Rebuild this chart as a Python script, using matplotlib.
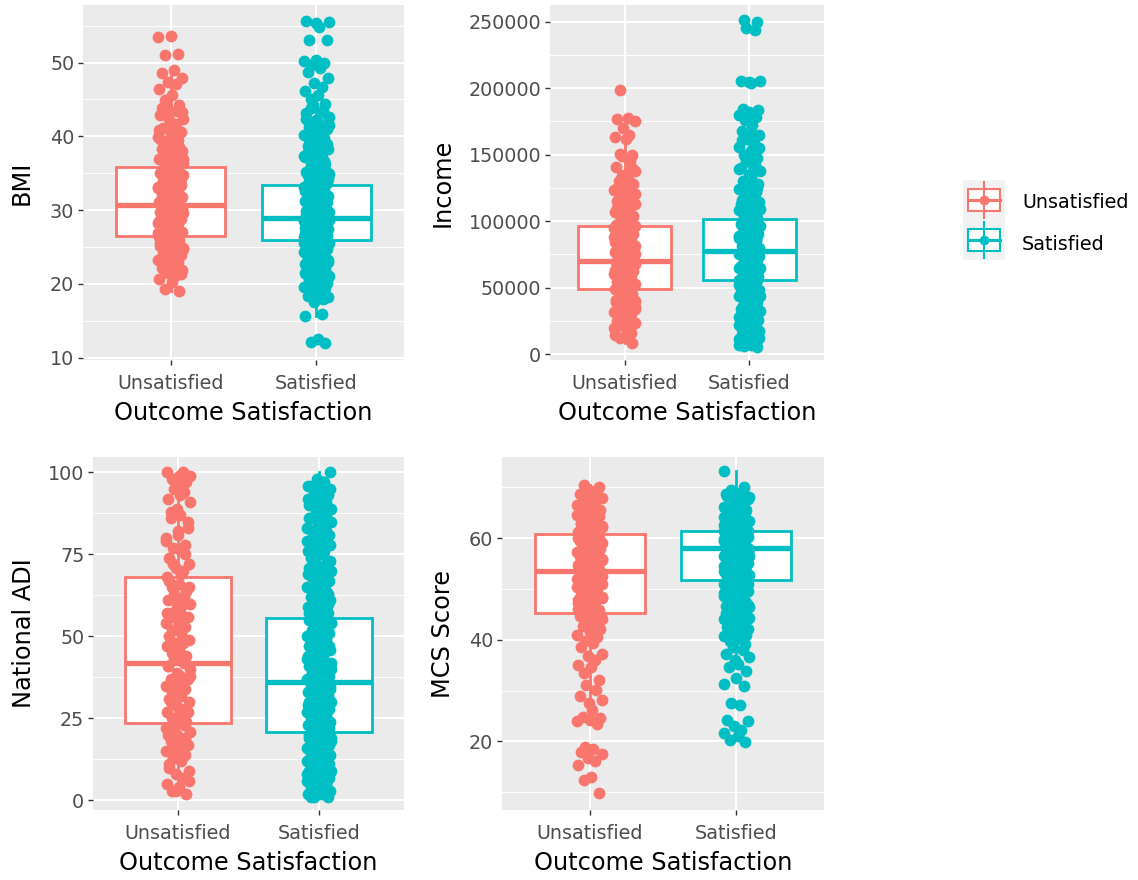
import numpy as np
import matplotlib
matplotlib.use('Agg')
import matplotlib.pyplot as plt
from matplotlib.ticker import MultipleLocator
from matplotlib.patches import Rectangle

# groups and colours (ggplot defaults)
groups = ['Unsatisfied', 'Satisfied']
colors = ['#F8766D', '#00BFC4']

# ---- point values ----
bmi_unsat = [19.1, 19.3, 20.3, 20.7, 21.2, 21.5, 21.9, 22.1, 22.4, 22.8, 23.0, 23.2, 23.7, 23.9,
             24.0, 24.4, 24.7, 24.9, 25.2, 25.3, 25.7, 25.9, 26.1, 26.3, 26.4, 26.8, 27.0, 27.1,
             27.5, 27.6, 27.9, 28.1, 28.3, 28.4, 28.8, 29.0, 29.1, 29.4, 29.6, 29.7, 30.1, 30.2,
             30.5, 30.7, 30.8, 31.1, 31.2, 31.6, 31.8, 32.0, 32.3, 32.4, 32.8, 33.0, 33.3, 33.4,
             33.9, 34.1, 34.4, 34.8, 35.0, 35.3, 35.7, 36.0, 36.2, 36.6, 37.0, 37.3, 37.7, 38.0,
             38.3, 38.8, 39.1, 39.5, 39.9, 40.2, 40.6, 41.1, 41.5, 41.9, 42.4, 42.9, 43.5, 44.0,
             44.3, 44.9, 45.6, 46.4, 47.1, 47.3, 47.9, 48.6, 49.0, 51.0, 51.2, 53.5, 53.6,
             21.3, 22.6, 23.4, 24.2, 24.8, 25.5, 26.0, 26.6, 27.2, 27.8, 28.2, 28.6, 29.2, 29.9,
             30.3, 30.9, 31.4, 31.9, 32.5, 33.1, 33.6, 34.2, 34.6, 35.1, 35.5, 36.4, 36.9, 37.5,
             38.1, 38.6, 39.3, 40.0, 40.8, 41.7, 42.6, 43.3, 43.9, 22.0, 23.5, 25.0, 26.9, 28.5,
             30.0, 31.5, 33.2, 34.9, 37.0, 39.6]
bmi_sat = [12.0, 12.2, 12.5, 15.7, 15.9, 17.6, 18.2, 18.4, 18.6, 19.0, 19.3, 19.6, 19.9, 20.1,
           20.4, 20.6, 20.9, 21.1, 21.3, 21.6, 21.8, 22.0, 22.2, 22.5, 22.7, 22.9, 23.1, 23.3,
           23.5, 23.8, 24.0, 24.1, 24.4, 24.6, 24.8, 25.0, 25.2, 25.4, 25.6, 25.8, 25.9, 26.2,
           26.4, 26.5, 26.7, 26.9, 27.1, 27.3, 27.4, 27.7, 27.9, 28.0, 28.3, 28.5, 28.6, 28.9,
           29.1, 29.2, 29.5, 29.7, 29.9, 30.1, 30.3, 30.6, 30.8, 31.0, 31.2, 31.5, 31.7, 31.9,
           32.2, 32.4, 32.7, 32.9, 33.2, 33.5, 33.7, 34.0, 34.3, 34.6, 34.9, 35.2, 35.5, 35.9,
           36.2, 36.5, 36.9, 37.2, 37.6, 38.0, 38.3, 38.7, 39.1, 39.4, 39.8, 40.2, 40.6, 41.0,
           41.3, 41.8, 42.2, 42.6, 43.1, 43.5, 44.0, 44.4, 45.0, 45.6, 46.1, 46.7, 47.2, 47.9,
           48.7, 49.2, 49.7, 50.0, 50.2, 50.3, 53.0, 53.1, 54.8, 55.3, 55.5, 55.6,
           17.9, 18.9, 19.5, 20.3, 21.0, 21.5, 22.1, 22.6, 23.0, 23.6, 24.2, 24.7, 25.1, 25.5,
           26.0, 26.6, 27.0, 27.5, 28.1, 28.7, 29.3, 29.8, 30.4, 30.9, 31.4, 32.0, 32.6, 33.0,
           33.6, 34.2, 34.8, 35.4, 36.0, 36.7, 37.4, 38.2, 38.9, 39.6, 40.4, 41.1, 41.6, 42.4,
           43.3, 44.2, 20.0, 22.4, 24.9, 27.6, 30.0, 32.5, 35.0, 37.9, 40.8, 43.8, 18.8, 26.3,
           29.6, 31.1]

inc_unsat = [8000, 12000, 14000, 14500, 18000, 21000, 23000, 25000, 26500, 28000, 30000, 31500,
             33000, 34500, 36000, 37000, 38500, 40000, 41000, 42500, 44000, 45000, 46500, 48000,
             49000, 50500, 52000, 53000, 54500, 56000, 57000, 58500, 60000, 61000, 62500, 64000,
             65000, 66500, 68000, 69000, 70500, 72000, 73000, 74500, 76000, 77000, 78500, 80000,
             81000, 82500, 84000, 85000, 86500, 88000, 89000, 90500, 92000, 93000, 94500, 96000,
             97000, 98500, 100000, 102000, 103500, 105000, 107000, 109000, 111000, 113000,
             115000, 117000, 119000, 121000, 123000, 125000, 127500, 130000, 132500, 135000,
             138000, 141000, 145000, 149000, 150000, 150500, 162000, 163500, 165000, 170000,
             175000, 176500, 177500, 198300,
             16000, 19500, 22000, 24000, 27000, 29000, 32000, 35000, 39000, 43000, 47000, 51000,
             55000, 59000, 63000, 67000, 71000, 75000, 79000, 83000, 87000, 91000, 95000, 99000,
             104000, 108000, 112000, 116000, 120000, 124000, 129000, 134000, 140000, 60500,
             72500, 84500, 96500, 45500, 33500, 110000]
inc_sat = [5500, 6000, 6500, 7000, 8000, 10000, 12000, 14000, 16000, 18000, 20000, 22000, 24000,
           25500, 27000, 29000, 30500, 32000, 34000, 35500, 37000, 39000, 40500, 42000, 43500,
           45000, 46500, 48000, 49500, 51000, 52500, 54000, 55500, 57000, 58500, 60000, 61500,
           63000, 64500, 66000, 67500, 69000, 70500, 72000, 73500, 75000, 76500, 78000, 79500,
           81000, 82500, 84000, 85500, 87000, 88500, 90000, 91500, 93000, 94500, 96000, 97500,
           99000, 100500, 102000, 104000, 106000, 108000, 110000, 112000, 114000, 116000, 118000,
           120000, 122000, 124000, 126000, 128000, 130000, 132500, 135000, 137500, 140000,
           142500, 145000, 147500, 150000, 153000, 156000, 159000, 162000, 165000, 168000,
           172000, 176000, 178000, 180000, 182000, 183500, 184000, 204000, 204500, 205000,
           205500, 244000, 245000, 249500, 251000,
           9000, 11000, 13000, 15000, 17000, 19000, 21000, 23000, 26000, 28000, 31000, 33000,
           36000, 38000, 41000, 44000, 47000, 50000, 53000, 56000, 59000, 62000, 65000, 68000,
           71000, 74000, 77000, 80000, 83000, 86000, 89000, 92000, 95000, 98000, 101000, 105000,
           109000, 113000, 117000, 121000, 125000, 129000, 134000, 139000, 144000, 149000,
           155000, 161000, 166000, 79000, 65500, 52000]

adi_unsat = [2, 3, 4, 5, 7, 8, 9, 11, 12, 13, 14, 15, 16, 17, 18, 19, 20, 21, 22, 23, 23, 24,
             25, 26, 27, 28, 29, 30, 31, 32, 33, 34, 35, 36, 37, 37, 38, 39, 40, 41, 42, 43, 44,
             45, 46, 47, 48, 48, 49, 50, 51, 52, 53, 54, 55, 56, 57, 58, 59, 60, 61, 62, 63, 64,
             65, 66, 68, 70, 71, 72, 74, 76, 77, 78, 80, 81, 83, 86, 87, 89, 91, 92, 94, 95, 97,
             98, 99, 100, 100,
             3, 6, 10, 13, 16, 19, 22, 25, 27, 30, 32, 35, 38, 41, 43, 46, 49, 52, 54, 57, 60,
             62, 65, 67, 69, 72, 75, 79, 82, 85, 88, 93, 96, 99, 20, 44, 56, 64, 33, 28]
adi_sat = [1, 1, 2, 2, 2, 3, 3, 4, 4, 5, 5, 6, 6, 7, 7, 8, 8, 9, 9, 10, 10, 11, 11, 12, 12, 13,
           13, 14, 14, 15, 15, 16, 16, 17, 17, 18, 18, 19, 19, 20, 20, 21, 21, 22, 22, 23, 23,
           24, 24, 25, 25, 26, 26, 27, 27, 28, 28, 29, 29, 30, 30, 31, 31, 32, 32, 33, 33, 34,
           34, 35, 35, 36, 36, 37, 37, 38, 38, 39, 39, 40, 40, 41, 41, 42, 42, 43, 44, 44, 45,
           46, 46, 47, 48, 48, 49, 50, 50, 51, 52, 52, 53, 54, 55, 55, 56, 57, 58, 58, 59, 60,
           61, 61, 62, 63, 64, 64, 65, 66, 67, 68, 68, 69, 70, 71, 72, 72, 73, 74, 75, 76, 76,
           77, 78, 79, 80, 81, 82, 83, 84, 85, 86, 87, 88, 89, 90, 91, 92, 93, 94, 95, 96, 97,
           98, 100,
           1, 3, 4, 6, 8, 9, 11, 13, 14, 16, 18, 19, 21, 23, 24, 26, 28, 29, 31, 33, 34, 36, 38,
           39, 41, 43, 45, 47, 49, 51, 53, 54, 57, 59, 62, 63, 66, 67, 69, 70, 71, 73, 74, 75,
           77, 78, 79, 80, 81, 82, 83, 84, 85, 86, 87, 88, 89, 90, 91, 92, 93, 94, 95, 96, 97,
           2, 5, 12, 17, 22, 27, 32, 37, 42, 47, 52, 56, 60, 65]

mcs_unsat = [9.9, 12.5, 12.9, 15.4, 16.2, 16.7, 17.5, 18.0, 18.6, 18.9, 23.4, 24.0, 24.3, 24.6,
             24.9, 26.2, 27.5, 28.1, 29.0, 30.1, 31.2, 32.0, 33.4, 34.6, 35.1, 36.0, 36.8, 37.2,
             38.5, 39.4, 39.8, 40.5, 41.0, 41.6, 42.1, 42.7, 43.3, 43.7, 44.2, 44.6, 45.0, 45.5,
             45.9, 46.3, 46.8, 47.2, 47.6, 48.0, 48.4, 48.8, 49.2, 49.6, 50.0, 50.4, 50.7, 51.1,
             51.5, 51.8, 52.2, 52.5, 52.9, 53.2, 53.5, 53.9, 54.2, 54.5, 54.8, 55.2, 55.5, 55.8,
             56.1, 56.4, 56.7, 57.0, 57.3, 57.6, 57.9, 58.2, 58.5, 58.8, 59.1, 59.4, 59.7, 60.0,
             60.3, 60.6, 60.9, 61.2, 61.6, 62.0, 62.4, 62.8, 63.2, 63.7, 64.1, 64.6, 65.1, 65.6,
             66.2, 66.8, 67.4, 68.0, 68.7, 69.3, 69.8, 70.1, 70.4,
             45.3, 46.0, 46.6, 47.4, 48.2, 48.9, 49.8, 50.5, 51.3, 52.0, 52.7, 53.4, 54.0, 54.7,
             55.3, 55.9, 56.5, 57.1, 57.8, 58.3, 58.9, 59.5, 60.1, 60.7, 61.4, 62.2, 63.0, 63.9,
             64.8, 65.8, 66.5, 67.1, 67.9, 68.4, 69.0, 69.6, 50.9, 56.9, 59.9, 61.9, 64.4, 66.0,
             53.8, 47.9]
mcs_sat = [19.8, 20.3, 21.0, 21.6, 22.3, 23.1, 24.0, 24.3, 27.2, 27.5, 30.9, 31.4, 32.4, 33.8,
           34.6, 35.2, 36.0, 36.6, 37.3, 38.0, 38.6, 39.2, 39.8, 40.3, 40.8, 41.2, 41.7, 42.1,
           42.6, 43.0, 43.4, 43.8, 44.2, 44.6, 45.0, 45.3, 45.7, 46.0, 46.4, 46.7, 47.1, 47.4,
           47.7, 48.0, 48.4, 48.7, 49.0, 49.3, 49.6, 49.9, 50.2, 50.5, 50.8, 51.0, 51.3, 51.6,
           51.9, 52.1, 52.4, 52.7, 52.9, 53.2, 53.5, 53.7, 54.0, 54.2, 54.5, 54.7, 55.0, 55.2,
           55.5, 55.7, 56.0, 56.2, 56.5, 56.7, 57.0, 57.2, 57.4, 57.7, 57.9, 58.1, 58.4, 58.6,
           58.8, 59.1, 59.3, 59.5, 59.8, 60.0, 60.2, 60.5, 60.7, 61.0, 61.2, 61.5, 61.8, 62.1,
           62.4, 62.7, 63.0, 63.4, 63.7, 64.1, 64.5, 64.9, 65.3, 65.8, 66.2, 66.7, 67.2, 67.7,
           68.3, 68.9, 69.6, 70.1, 73.3,
           40.1, 41.0, 41.9, 42.8, 43.6, 44.4, 45.2, 45.9, 46.6, 47.3, 47.9, 48.6, 49.2, 49.8,
           50.4, 50.9, 51.5, 52.0, 52.6, 53.1, 53.6, 54.1, 54.6, 55.1, 55.6, 56.1, 56.6, 57.1,
           57.6, 58.0, 58.5, 59.0, 59.4, 59.9, 60.4, 60.9, 61.4, 61.9, 62.3, 62.9, 63.5, 64.2,
           64.8, 65.5, 66.0, 66.9, 67.5, 68.1, 68.7, 69.3, 55.3, 57.3, 58.9, 60.6, 62.6, 53.9,
           50.6, 46.9]

# box stats: [whisker low, Q1, median, Q3, whisker high]
bmi_box = [[19.1, 26.5, 30.7, 35.8, 49.0], [15.7, 25.9, 29.0, 33.4, 44.4]]
inc_box = [[8000, 49000, 70300, 96400, 165000], [5500, 55900, 77800, 101400, 168000]]
adi_box = [[2, 23.7, 41.8, 68.1, 100], [1, 20.8, 36.2, 55.7, 100]]
mcs_box = [[23.4, 45.2, 53.5, 60.8, 70.4], [37.3, 51.7, 58.0, 61.5, 73.3]]

# fixed horizontal jitter offsets (position only)
jit = [0.06, -0.04, 0.01, -0.08, 0.035, -0.015, 0.08, -0.06, 0.025, -0.035, 0.05,
       -0.085, 0.0, 0.07, -0.05, 0.015, -0.005, 0.085, -0.07, 0.045, -0.025]

TICK = 13.8
TITLE = 17.3

fig = plt.figure(figsize=(11.38, 8.8), dpi=100)


def panel(rect, vals, box, ylabel, ylim, major, minor, labx):
    ax = fig.add_axes(rect)
    ax.set_facecolor('#EBEBEB')
    for s in ax.spines.values():
        s.set_visible(False)
    ax.set_axisbelow(True)
    ax.yaxis.set_major_locator(MultipleLocator(major))
    ax.yaxis.set_minor_locator(MultipleLocator(minor))
    ax.grid(which='major', color='white', lw=1.5)
    ax.grid(which='minor', axis='y', color='white', lw=0.7)
    stats = []
    for b in box:
        stats.append(dict(whislo=b[0], q1=b[1], med=b[2], q3=b[3], whishi=b[4]))
    bp = ax.bxp(stats, positions=[1, 2], widths=0.75, showfliers=False, showcaps=False,
                patch_artist=True, zorder=2)
    for i in range(2):
        bp['boxes'][i].set(facecolor='white', edgecolor=colors[i], lw=2.0)
        bp['medians'][i].set(color=colors[i], lw=3.8, solid_capstyle='butt')
        bp['whiskers'][2 * i].set(color=colors[i], lw=2.0)
        bp['whiskers'][2 * i + 1].set(color=colors[i], lw=2.0)
    for i in range(2):
        y = np.array(vals[i], dtype=float)
        x = np.array([i + 1 + jit[k % len(jit)] for k in range(len(y))])
        ax.scatter(x, y, s=72, color=colors[i], linewidths=0, zorder=3)
    ax.set_xlim(0.4, 2.6)
    ax.set_ylim(*ylim)
    ax.set_xticks([1, 2])
    ax.set_xticklabels(groups)
    ax.tick_params(which='major', length=3.8, width=1.0, color='#333333',
                   labelcolor='#4D4D4D', labelsize=TICK, pad=2.5)
    ax.tick_params(axis='x', which='major', pad=6)
    ax.tick_params(which='minor', length=0)
    ax.set_xlabel('Outcome Satisfaction', fontsize=TITLE, labelpad=6)
    ax.set_ylabel(ylabel, fontsize=TITLE)
    ax.yaxis.set_label_coords(labx, 0.5)
    return ax


panel([83 / 1138, 1 - 360 / 880, 321 / 1138, 355 / 880], [bmi_unsat, bmi_sat], bmi_box,
      'BMI', (9.7, 57.8), 10, 5, -0.153)
panel([550 / 1138, 1 - 360 / 880, 274 / 1138, 355 / 880], [inc_unsat, inc_sat], inc_box,
      'Income', (-4500, 262500), 50000, 25000, -0.347)
panel([93 / 1138, 1 - 810 / 880, 311 / 1138, 353 / 880], [adi_unsat, adi_sat], adi_box,
      'National ADI', (-2.9, 104.7), 25, 12.5, -0.184)
panel([502 / 1138, 1 - 810 / 880, 322 / 1138, 353 / 880], [mcs_unsat, mcs_sat], mcs_box,
      'MCS Score', (6.5, 76.0), 20, 10, -0.146)

# legend drawn as boxplot keys
lg = fig.add_axes([963 / 1138, 1 - 260 / 880, 42 / 1138, 80 / 880])
lg.set_xlim(0, 1)
lg.set_ylim(0, 2)
lg.set_facecolor('#F2F2F2')
lg.set_xticks([])
lg.set_yticks([])
for s in lg.spines.values():
    s.set_visible(False)
for i in range(2):
    base = 1 - i
    lg.plot([0.5, 0.5], [base + 0.04, base + 0.96], color=colors[i], lw=1.5)
    lg.add_patch(Rectangle((0.13, base + 0.23), 0.74, 0.54, facecolor='white',
                           edgecolor=colors[i], lw=1.5))
    lg.plot([0.13, 0.87], [base + 0.5, base + 0.5], color=colors[i], lw=2.2)
    lg.scatter([0.5], [base + 0.5], s=50, color=colors[i], linewidths=0, zorder=3)
    fig.text(1022 / 1138, 1 - (203 + 42 * i) / 880, groups[i], fontsize=TICK,
             va='center', ha='left', color='black')

fig.savefig('out.png', dpi=100)
